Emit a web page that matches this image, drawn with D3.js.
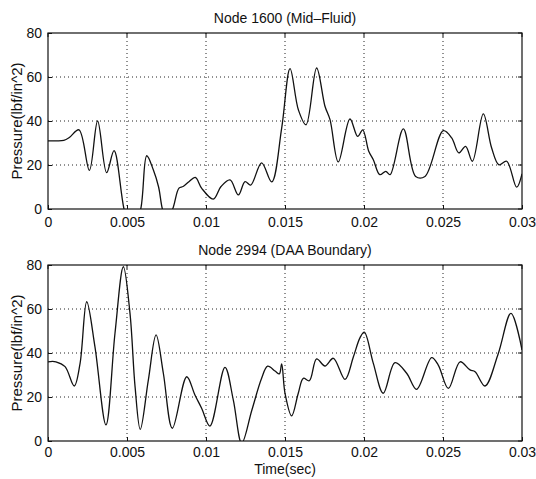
<!DOCTYPE html>
<html>
<head>
<meta charset="utf-8">
<script src="https://cdnjs.cloudflare.com/ajax/libs/d3/7.8.5/d3.min.js"></script>
<style>
  body { margin: 0; background: #fff; }
  svg text { font-family: "Liberation Sans", Arial, sans-serif; fill: #111; }
</style>
</head>
<body>
<svg id="chart" width="536" height="479"></svg>
<script>
// time (sec) ticks and pressure ticks
var timeTicks = [0, 0.005, 0.01, 0.015, 0.02, 0.025, 0.03];
var pressureTicks = [0, 20, 40, 60, 80];

var midTime = [0, 0.0005, 0.001, 0.00135, 0.00196, 0.00262, 0.00314, 0.00371, 0.00418,
  0.00481, 0.0053, 0.00587, 0.00625, 0.00667, 0.007, 0.00724, 0.0075, 0.00789, 0.00829,
  0.00855, 0.00892, 0.00932, 0.00973, 0.01046, 0.01095, 0.01152, 0.01205, 0.01247, 0.01283,
  0.01352, 0.01416, 0.01479, 0.01532, 0.01585, 0.01633, 0.017, 0.01753, 0.01785, 0.01837,
  0.01911, 0.0196, 0.01992, 0.0203, 0.02059, 0.021, 0.02138, 0.02165, 0.02249, 0.02327,
  0.02386, 0.02502, 0.02555, 0.026, 0.02643, 0.02686, 0.02755, 0.02808, 0.02854, 0.02903,
  0.02966, 0.03];
var midPressure = [31, 31, 31.2, 32.5, 36, 17.6, 40, 16.5, 26.5,
  0, -12, 0, 24.2, 17.7, 10, 0, -5, 0, 9.5,
  10.2, 12.4, 14.4, 9.4, 4.5, 10.2, 13.2, 6.4, 12.4, 10.9,
  21, 12.3, 36.8, 63.8, 45, 38.3, 64.1, 46.7, 40.6, 21.4,
  40.9, 33, 36, 26.2, 22.4, 15.6, 17.1, 15.6, 36.4, 14.8,
  14.8, 35.6, 32.3, 25.5, 28.5, 21.7, 43.2, 27.7, 20.1, 21.7,
  9.9, 16];

// Node 2994 (DAA Boundary)
var daaTime = [0, 0.0005, 0.00108, 0.00166, 0.00203, 0.00245, 0.00297, 0.00367, 0.00424,
  0.00477, 0.00519, 0.00551, 0.00584, 0.00635, 0.00684, 0.0073, 0.00787, 0.00878, 0.0093,
  0.00973, 0.01025, 0.0112, 0.01173, 0.01226, 0.0129, 0.01352, 0.0139, 0.01437, 0.01464,
  0.01479, 0.015, 0.01542, 0.01584, 0.01616, 0.01654, 0.017, 0.01753, 0.01806, 0.0188,
  0.01933, 0.01975, 0.02002, 0.02059, 0.02122, 0.02196, 0.0227, 0.02333, 0.02428, 0.0247,
  0.02534, 0.02608, 0.02671, 0.02703, 0.02766, 0.0285, 0.0293, 0.03];
var daaPressure = [36, 36, 33.8, 25, 35.3, 63.3, 42.9, 7.3, 49,
  79.2, 58, 24.7, 5.3, 27.7, 48.2, 30.8, 5.8, 29.2, 20.9,
  14.8, 6.8, 33.5, 18.6, -1, 14, 28.5, 34, 31.8, 30.5,
  35, 21.7, 11.4, 21.7, 28.5, 27.4, 37.3, 34.1, 37.6, 28,
  38.3, 47, 49.5, 35.3, 21.7, 35.6, 30.8, 23.5, 37.9, 34.5,
  23.9, 36, 32.3, 31.5, 25, 39.8, 58, 41.4];

var svg = d3.select("#chart");
var left = 48, right = 522;

var x = d3.scaleLinear().domain([0, 0.03]).range([left, right]);

function drawPanel(id, top, bottom, title, times, values, pad) {
  var y = d3.scaleLinear().domain([0, 80]).range([bottom, top]);
  var g = svg.append("g").attr("class", "panel");

  // clip the trace to the axes box
  svg.append("clipPath").attr("id", "clip-" + id)
    .append("rect")
    .attr("x", left).attr("y", top)
    .attr("width", right - left).attr("height", bottom - top);

  // dotted grid
  g.selectAll(".vgrid")
    .data(timeTicks.slice(1, -1))
    .enter().append("line")
    .attr("x1", function (d) { return x(d); })
    .attr("x2", function (d) { return x(d); })
    .attr("y1", top).attr("y2", bottom)
    .attr("stroke", "#222").attr("stroke-width", 1)
    .attr("stroke-dasharray", "1,3");
  g.selectAll(".hgrid")
    .data(pressureTicks.slice(1, -1))
    .enter().append("line")
    .attr("y1", function (d) { return y(d); })
    .attr("y2", function (d) { return y(d); })
    .attr("x1", left).attr("x2", right)
    .attr("stroke", "#222").attr("stroke-width", 1)
    .attr("stroke-dasharray", "1,3");

  // axes (ticks inward like matlab)
  var xAxis = d3.axisBottom(x).tickValues(timeTicks).tickSizeInner(-4).tickSizeOuter(0)
    .tickPadding(pad).tickFormat(function (d) { return d === 0 ? "0" : String(+d.toFixed(3)); });
  var yAxis = d3.axisLeft(y).tickValues(pressureTicks).tickSizeInner(-4).tickSizeOuter(0)
    .tickPadding(6);

  var gx = g.append("g").attr("transform", "translate(0," + bottom + ")").call(xAxis);
  var gy = g.append("g").attr("transform", "translate(" + left + ",0)").call(yAxis);
  [gx, gy].forEach(function (a) {
    a.select(".domain").remove();
    a.selectAll("line").attr("stroke", "#111");
    a.selectAll("text").style("font-size", "14px")
      .style("font-family", "'Liberation Sans', Arial, sans-serif").attr("fill", "#111");
  });
  gx.selectAll("text").attr("dy", "0.71em");

  // mirrored ticks on top/right
  g.selectAll(".ttick").data(timeTicks).enter().append("line")
    .attr("x1", function (d) { return x(d); }).attr("x2", function (d) { return x(d); })
    .attr("y1", top).attr("y2", top + 4).attr("stroke", "#111");
  g.selectAll(".rtick").data(pressureTicks).enter().append("line")
    .attr("y1", function (d) { return y(d); }).attr("y2", function (d) { return y(d); })
    .attr("x1", right).attr("x2", right - 4).attr("stroke", "#111");

  // frame
  g.append("rect")
    .attr("x", left).attr("y", top)
    .attr("width", right - left).attr("height", bottom - top)
    .attr("fill", "none").attr("stroke", "#111").attr("stroke-width", 1.2);

  var line = d3.line()
    .x(function (d, i) { return x(times[i]); })
    .y(function (d) { return y(d); })
    .curve(d3.curveCatmullRom.alpha(0.5));

  g.append("path")
    .datum(values)
    .attr("clip-path", "url(#clip-" + id + ")")
    .attr("d", line)
    .attr("fill", "none")
    .attr("stroke", "#111")
    .attr("stroke-width", 1.3);

  g.append("text")
    .attr("x", (left + right) / 2).attr("y", top - 10)
    .attr("text-anchor", "middle")
    .style("font-size", "14px")
    .text(title);

  g.append("text")
    .attr("transform", "translate(22," + (top + bottom) / 2 + ") rotate(-90)")
    .attr("text-anchor", "middle")
    .style("font-size", "15px")
    .text("Pressure(lbf/in^2)");
}

drawPanel("mid", 33, 209, "Node 1600 (Mid\u2013Fluid)", midTime, midPressure, 8);
drawPanel("daa", 265, 441, "Node 2994 (DAA Boundary)", daaTime, daaPressure, 6);

svg.append("text")
  .attr("x", (left + right) / 2).attr("y", 474)
  .attr("text-anchor", "middle")
  .style("font-size", "14px")
  .text("Time(sec)");
</script>
</body>
</html>
